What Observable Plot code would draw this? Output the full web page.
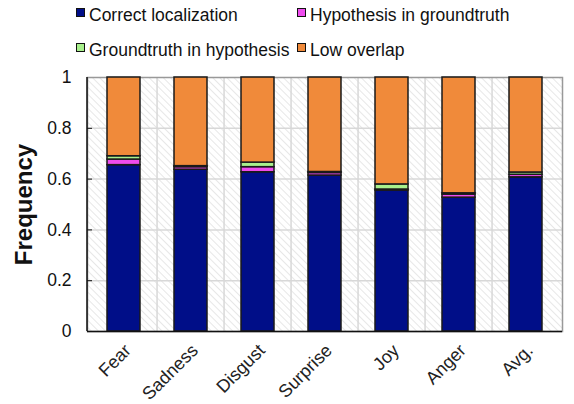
<!DOCTYPE html>
<html>
<head>
<meta charset="utf-8">
<script src="https://cdn.jsdelivr.net/npm/d3@7"></script>
<script src="https://cdn.jsdelivr.net/npm/@observablehq/plot@0.6"></script>
<style>
  body { margin: 0; background: #fff; }
  #wrap { position: relative; width: 574px; height: 404px; font-family: "Liberation Sans", Arial, sans-serif; }
  .leg { position: absolute; display: flex; align-items: center; font-size: 17.5px; color: #111; white-space: nowrap; }
  .sw { width: 7px; height: 7px; border: 1px solid #111; margin-right: 4px; margin-top: -6px; }
</style>
</head>
<body>
<div id="wrap"></div>
<script>
const categories = ["Fear", "Sadness", "Disgust", "Surprise", "Joy", "Anger", "Avg."];
const seriesNames = ["Correct localization", "Hypothesis in groundtruth", "Groundtruth in hypothesis", "Low overlap"];
const correctLocalization = [0.655, 0.637, 0.627, 0.614, 0.555, 0.527, 0.607];
const hypothesisInGroundtruth = [0.022, 0.010, 0.020, 0.010, 0.004, 0.012, 0.010];
const groundtruthInHypothesis = [0.013, 0.004, 0.018, 0.004, 0.020, 0.005, 0.009];
const lowOverlap = [0.310, 0.349, 0.335, 0.372, 0.421, 0.456, 0.374];
const yTicks = [0, 0.2, 0.4, 0.6, 0.8, 1];
const colors = ["#000E88", "#EE4CEE", "#A8F08C", "#F08A3A"];

const seriesValues = [correctLocalization, hypothesisInGroundtruth, groundtruthInHypothesis, lowOverlap];
const data = [];
categories.forEach((c, i) => {
  seriesNames.forEach((s, k) => data.push({category: c, series: s, order: k, value: seriesValues[k][i]}));
});

const W = 574, H = 404, mL = 87, mR = 12, mT = 77, mB = 73;
const step = (W - mL - mR) / categories.length;

const chart = Plot.plot({
  width: W,
  height: H,
  marginLeft: mL,
  marginRight: mR,
  marginTop: mT,
  marginBottom: mB,
  style: {fontFamily: "'Liberation Sans', Arial, sans-serif", fontSize: "17px", color: "#111", background: "transparent"},
  x: {domain: categories, paddingInner: 0.51, paddingOuter: 0.255, align: 0.5, label: null},
  y: {domain: [0, 1], label: null},
  color: {domain: seriesNames, range: colors},
  marks: [
    Plot.frame({fill: "url(#hatch)", stroke: null}),
    Plot.ruleY(yTicks.filter(d => d > 0 && d < 1), {stroke: "#d8d8d8", strokeWidth: 1.5}),
    Plot.ruleX(categories.slice(1), {x: d => d, dx: -step / 2, stroke: "#d8d8d8", strokeWidth: 1.5}),
    Plot.frame({stroke: "#999", strokeWidth: 1.5}),
    Plot.barY(data, {x: "category", y: "value", fill: "series", order: "order", stroke: "#1a1a1a", strokeWidth: 1.5}),
    Plot.ruleY([0], {stroke: "#111", strokeWidth: 1.5}),
    Plot.axisY({ticks: yTicks, tickSize: 0, tickPadding: 16, tickFormat: d => String(d), fontSize: 17.5}),
    Plot.axisY({ticks: yTicks.filter(d => d > 0 && d < 1), tickSize: -5, tickFormat: () => "", stroke: "#111"}),
    Plot.axisX({tickSize: 0, tickRotate: -45, tickPadding: 16, dx: 4, fontSize: 18, fill: "#222"}),
    Plot.text(["Frequency"], {frameAnchor: "left", dx: -63, rotate: -90, fontSize: 24, fontWeight: "bold", fill: "#111", textAnchor: "middle"})
  ]
});

const svgns = "http://www.w3.org/2000/svg";
const defs = document.createElementNS(svgns, "defs");
defs.innerHTML = `<pattern id="hatch" patternUnits="userSpaceOnUse" width="5" height="5" patternTransform="rotate(-45)">
  <rect width="5" height="5" fill="#fff"/>
  <line x1="0" y1="0" x2="0" y2="5" stroke="#e0e0e0" stroke-width="1.5"/>
</pattern>`;
chart.insertBefore(defs, chart.firstChild);
const leftLine = document.createElementNS(svgns, "line");
leftLine.setAttribute("x1", mL); leftLine.setAttribute("x2", mL);
leftLine.setAttribute("y1", mT); leftLine.setAttribute("y2", H - mB);
leftLine.setAttribute("stroke", "#111"); leftLine.setAttribute("stroke-width", "1.5");
chart.appendChild(leftLine);

const wrap = document.getElementById("wrap");
wrap.appendChild(chart);
const legPos = [[76, 5], [297, 5], [76, 40], [297, 40]];
seriesNames.forEach((s, k) => {
  const d = document.createElement("div");
  d.className = "leg";
  d.style.left = legPos[k][0] + "px";
  d.style.top = legPos[k][1] + "px";
  d.innerHTML = `<span class="sw" style="background:${colors[k]}"></span><span>${s}</span>`;
  wrap.appendChild(d);
});
chart.style.position = "absolute";
chart.style.left = "0"; chart.style.top = "0";
</script>
</body>
</html>
